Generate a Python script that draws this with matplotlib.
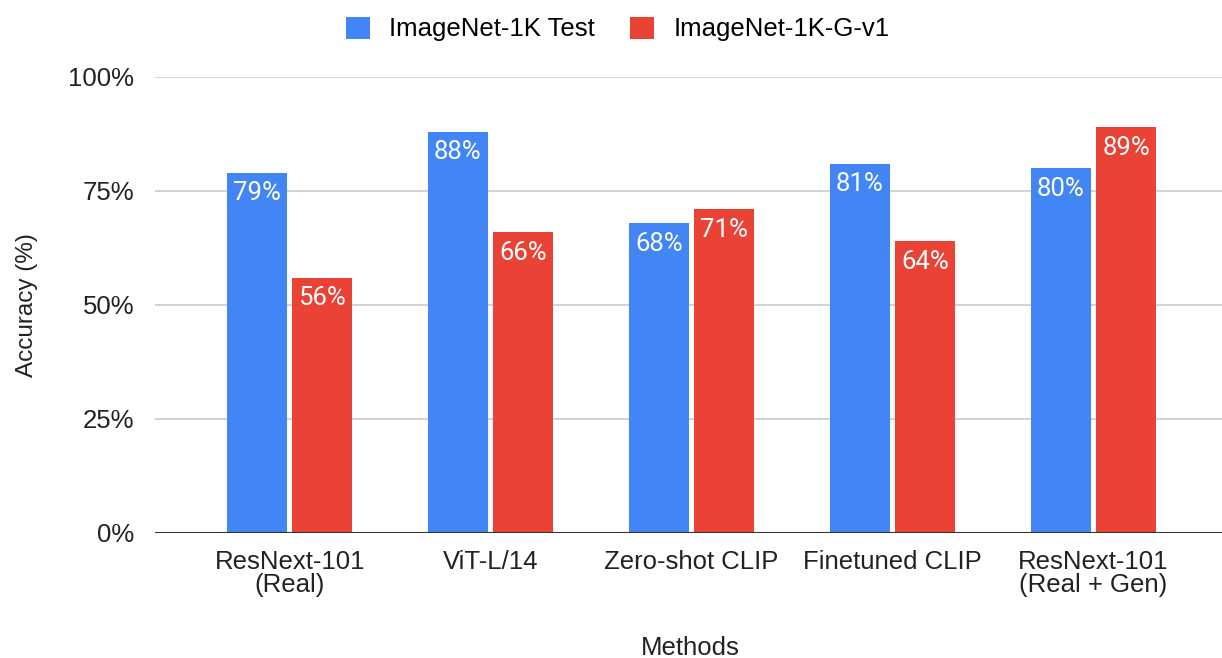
import numpy as np
import matplotlib.pyplot as plt
from matplotlib.ticker import FuncFormatter

methods = ['ResNext-101\n(Real)', 'ViT-L/14', 'Zero-shot CLIP',
           'Finetuned CLIP', 'ResNext-101\n(Real + Gen)']
test_acc = [79, 88, 68, 81, 80]
gen_acc = [56, 66, 71, 64, 89]
series_names = ['ImageNet-1K Test', 'ImageNet-1K-G-v1']
colors = ['#4285f4', '#ea4335']

plt.rcParams['font.family'] = ['Liberation Sans', 'DejaVu Sans']
fs = 18.5

fig = plt.figure(figsize=(12.22, 6.58), dpi=100)
ax = fig.add_axes([155 / 1222, 1 - 533 / 658, 1067 / 1222, 456 / 658])

x = np.arange(len(methods))
w = 0.3
gap = 0.025
offsets = [-(w + gap) / 2, (w + gap) / 2]
for vals, off, col, name in zip([test_acc, gen_acc], offsets, colors, series_names):
    bars = ax.bar(x + off, vals, w, color=col, label=name, zorder=3)
    for b, v in zip(bars, vals):
        ax.text(b.get_x() + b.get_width() / 2, v - 1.9, f'{v}%',
                ha='center', va='top', color='white', fontsize=18.5,
                fontweight='normal', family=['Roboto', 'DejaVu Sans'], zorder=4)

ax.set_xlim(-0.67, 4.64)
ax.set_ylim(0, 100)
ax.set_yticks([0, 25, 50, 75, 100])
ax.yaxis.set_major_formatter(FuncFormatter(lambda v, _: f'{v:.0f}%'))
ax.grid(axis='y', color='#cccccc', linewidth=1.2, zorder=0)
ax.axhline(0, color='#333333', linewidth=1.5, zorder=5)
for s in ax.spines.values():
    s.set_visible(False)
ax.tick_params(length=0, labelsize=fs, colors='#222222')
ax.tick_params(axis='y', pad=15)
ax.tick_params(axis='x', pad=12)
ax.set_xticks(x)
ax.set_xticklabels(methods, linespacing=0.95)

ax.set_ylabel('Accuracy (%)', fontsize=17.5, color='#222222', labelpad=22)
# x axis title sits well below the two-line tick labels
fig.text(690 / 1222, 1 - 648 / 658, 'Methods', ha='center', va='center',
         fontsize=fs, color='#222222')

fig.legend(loc='upper center', bbox_to_anchor=(0.5055, 1.01), ncol=2, frameon=False,
           fontsize=fs, handlelength=0.95, handleheight=0.95, columnspacing=1.35,
           handletextpad=0.75)

fig.savefig('out.png', dpi=100)
